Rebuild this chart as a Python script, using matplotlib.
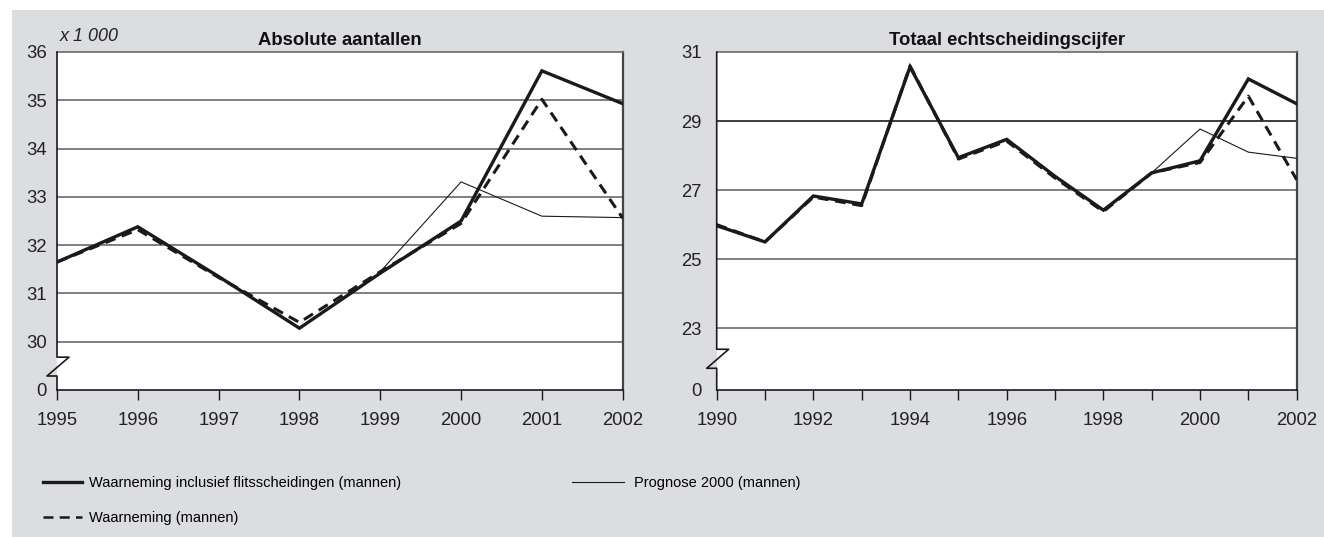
import matplotlib
matplotlib.use("Agg")
import matplotlib.pyplot as plt
from matplotlib import transforms
from matplotlib.lines import Line2D
from matplotlib.patches import Rectangle

plt.rcParams['font.family'] = ['Liberation Sans', 'DejaVu Sans']

# Absolute aantallen (x 1 000)
years_abs = [1995, 1996, 1997, 1998, 1999, 2000, 2001, 2002]
abs_incl = [31.65, 32.38, 31.35, 30.28, 31.42, 32.50, 35.61, 34.93]
abs_obs = [31.65, 32.32, 31.33, 30.40, 31.45, 32.45, 35.02, 32.56]
years_abs_prog = [1999, 2000, 2001, 2002]
abs_prog = [31.45, 33.31, 32.60, 32.57]

# Totaal echtscheidingscijfer
years_tot = list(range(1990, 2003))
tot_incl = [25.97, 25.50, 26.83, 26.60, 30.57, 27.94, 28.47, 27.40, 26.42, 27.50, 27.85, 30.22, 29.50]
tot_obs = [26.00, 25.50, 26.80, 26.55, 30.60, 27.90, 28.42, 27.35, 26.38, 27.50, 27.80, 29.72, 27.30]
years_tot_prog = [1999, 2000, 2001, 2002]
tot_prog = [27.50, 28.77, 28.10, 27.92]

labels = ["Waarneming inclusief flitsscheidingen (mannen)",
          "Waarneming (mannen)",
          "Prognose 2000 (mannen)"]

W, H = 1324, 537
fig = plt.figure(figsize=(W / 100, H / 100), dpi=100)
fig.patch.set_facecolor("white")
fig.patches.append(Rectangle((12 / W, 0), 1, (H - 10) / H, transform=fig.transFigure,
                             facecolor="#dcdde0", edgecolor="none", zorder=-10))

dark = "#1a1a1a"
grid_c = "#6a6a6a"
DASH = (0, (3.5, 2.2))


def make_axes(left_px, right_px, top_px=52, bottom_px=390):
    return fig.add_axes([left_px / W, (H - bottom_px) / H,
                         (right_px - left_px) / W, (bottom_px - top_px) / H])


def style(ax, ybot, ytop, yticks, ylabels, grids, dark_grids, brk, ylabel_pad, width_px):
    ax.set_facecolor("white")
    ax.set_ylim(ybot, ytop)
    ax.set_yticks(yticks)
    ax.set_yticklabels(ylabels, fontsize=13.3, color="#222222")
    ax.tick_params(axis="y", length=0, pad=ylabel_pad)
    ax.tick_params(axis="x", length=7.5, width=1, color=dark, direction="out",
                   pad=8.5, labelsize=13.3, labelcolor="#222222")
    for g in grids:
        c = dark if g in dark_grids else grid_c
        ax.axhline(g, color=c, lw=1.2, zorder=1)
    ax.spines["left"].set_visible(False)
    ax.spines["top"].set_color(grid_c)
    ax.spines["top"].set_linewidth(1.2)
    ax.spines["right"].set_color("#444444")
    ax.spines["right"].set_linewidth(1.6)
    ax.spines["bottom"].set_color(dark)
    ax.spines["bottom"].set_linewidth(1.2)
    # left spine with axis break zigzag
    tr = transforms.blended_transform_factory(ax.transAxes, ax.transData)
    hi, lo = brk
    dr, dl = 12 / width_px, 10 / width_px
    ax.add_line(Line2D([0, 0, dr, -dl, 0, 0], [ytop, hi, hi, lo, lo, ybot],
                       transform=tr, color=dark, lw=1.2, clip_on=False, zorder=5))


def draw_series(ax, x1, y1, x2, y2, x3, y3):
    ax.plot(x1, y1, color=dark, lw=2.4, zorder=4, solid_joinstyle="miter")
    ax.plot(x2, y2, color=dark, lw=2.2, ls=DASH, zorder=4)
    ax.plot(x3, y3, color=dark, lw=0.8, zorder=3)


# Left panel
ax1 = make_axes(57, 622.7)
ax1.set_xlim(1995, 2002)
ax1.set_xticks(years_abs)
ax1.set_xticklabels([str(y) for y in years_abs])
style(ax1, 29, 36, [29, 30, 31, 32, 33, 34, 35, 36],
      ["0", "30", "31", "32", "33", "34", "35", "36"],
      [30, 31, 32, 33, 34, 35], [], (29.68, 29.29), 7.5, 565.7)
draw_series(ax1, years_abs, abs_incl, years_abs, abs_obs, years_abs_prog, abs_prog)
ax1.set_title("Absolute aantallen", fontsize=13.3, fontweight="bold", pad=5, color="#111111")
ax1.text(0.005, 1.02, "x 1 000", transform=ax1.transAxes, fontsize=13, style="italic",
         color="#222222", va="bottom", ha="left")

# Right panel
ax2 = make_axes(716.7, 1296.7)
ax2.set_xlim(1990, 2002)
ax2.set_xticks(years_tot)
ax2.set_xticklabels([str(y) if y % 2 == 0 else "" for y in years_tot])
ybot2 = 23 - 61.7 / 34.5
style(ax2, ybot2, 31, [ybot2, 23, 25, 27, 29, 31],
      ["0", "23", "25", "27", "29", "31"],
      [23, 25, 27, 29], [29], (23 - 21 / 34.5, 23 - 40 / 34.5), 11, 580)
draw_series(ax2, years_tot, tot_incl, years_tot, tot_obs, years_tot_prog, tot_prog)
ax2.set_title("Totaal echtscheidingscijfer", fontsize=13.3, fontweight="bold", pad=5, color="#111111")

# Legend (two blocks)
h_incl = Line2D([], [], color=dark, lw=2.4)
h_obs = Line2D([], [], color=dark, lw=1.8, ls=(0, (4, 2.5)))
h_prog = Line2D([], [], color=dark, lw=0.8)
leg_kw = dict(loc="upper left", frameon=False, borderpad=0, borderaxespad=0,
              labelspacing=1.42, prop={"size": 10.5})
leg1 = fig.legend([h_incl, h_obs], labels[:2], bbox_to_anchor=(43 / W, (H - 476) / H),
                  handlelength=2.67, handletextpad=0.48, **leg_kw)
fig.legend([h_prog], labels[2:], bbox_to_anchor=(572 / W, (H - 476) / H),
           handlelength=3.56, handletextpad=0.68, **leg_kw)

fig.savefig("out.png", dpi=100)
